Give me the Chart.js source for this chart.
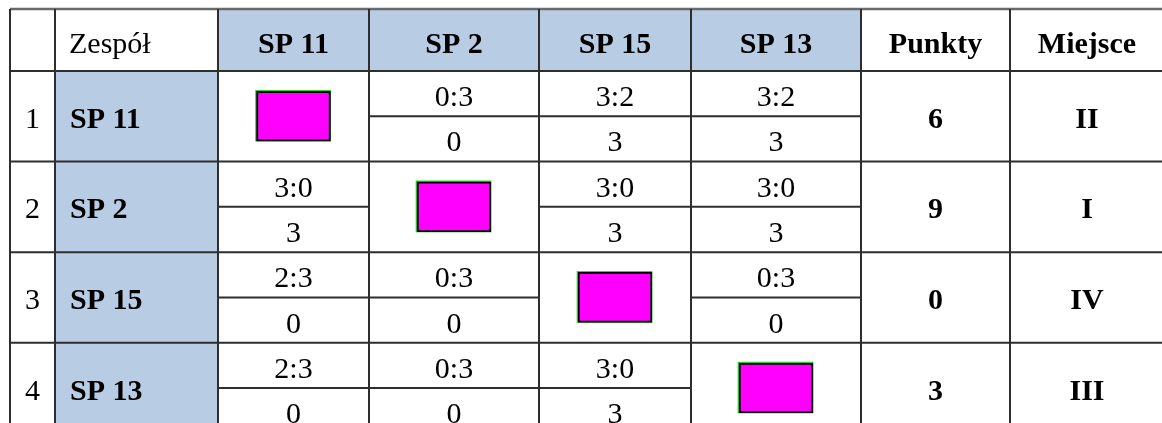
<!DOCTYPE html>
<html>
<head>
<meta charset="utf-8">
<script src="https://cdn.jsdelivr.net/npm/chart.js@4.4.1/dist/chart.umd.min.js"></script>
<style>
html, body { margin: 0; padding: 0; background: #fff; }
canvas { display: block; }
</style>
</head>
<body>
<canvas id="tableChart" width="1162" height="423"></canvas>
<script>
const teams = ['SP 11', 'SP 2', 'SP 15', 'SP 13'];

// wynik w setach (wiersz = gospodarz, kolumna = rywal)
const setScores = [
    [null, '0:3', '3:2', '3:2'],
    ['3:0', null, '3:0', '3:0'],
    ['2:3', '0:3', null, '0:3'],
    ['2:3', '0:3', '3:0', null],
];

const matchPoints = [
    [null, 0, 3, 3],
    [3, null, 3, 3],
    [0, 0, null, 0],
    [0, 0, 3, null],
];

const totalPoints = [6, 9, 0, 3];
const places = ['II', 'I', 'IV', 'III'];
const headLabels = ['', 'Zespół', ...teams, 'Punkty', 'Miejsce'];

// layout
const colWidths = [45, 163, 151, 170, 152, 170, 149, 154];
const colEdges = [0];
colWidths.forEach(w => colEdges.push(colEdges[colEdges.length - 1] + w));
const HALF_ROW = 45.29;          // px per y unit (half of a team row)
const HEAD = 62 / HALF_ROW;      // header height in y units
const PAD_TOP = 9, PAD_LEFT = 10;
const Y_MAX = (423 - PAD_TOP) / HALF_ROW;
const X_MAX = 1162 - PAD_LEFT;

const colCenter = c => (colEdges[c] + colEdges[c + 1]) / 2;
const rowTop = i => HEAD + 2 * i;

const BLUE = '#b8cce4';
const LINE = '#2e2e2e';

// grid lines as one line dataset with gaps
const gridPts = [];
const seg = (x1, y1, x2, y2) => gridPts.push({x: x1, y: y1}, {x: x2, y: y2}, {x: null, y: null});
colEdges.forEach(xv => seg(xv, 0, xv, HEAD + 8));
[HEAD, HEAD + 2, HEAD + 4, HEAD + 6, HEAD + 8].forEach(yv => seg(0, yv, colEdges[8], yv));
teams.forEach((t, i) => {
    for (let j = 0; j < teams.length; j++) {
        if (j !== i) seg(colEdges[j + 2], rowTop(i) + 1, colEdges[j + 3], rowTop(i) + 1);
    }
});

const textPlugin = {
    id: 'tableText',
    afterDatasetsDraw(chart) {
        const {ctx, scales: {x, y}} = chart;
        const put = (txt, xv, yv, bold, align, off) => {
            if (txt === null || txt === undefined || txt === '') return;
            ctx.save();
            ctx.font = (bold ? 'bold ' : '') + '30px "Liberation Serif", "Times New Roman", serif';
            ctx.fillStyle = '#000';
            ctx.textAlign = align || 'center';
            ctx.textBaseline = 'alphabetic';
            ctx.fillText(String(txt), x.getPixelForValue(xv), y.getPixelForValue(yv) + off);
            ctx.restore();
        };
        // header
        headLabels.forEach((lab, c) => {
            if (c === 1) put(lab, colEdges[1] + 14, HEAD / 2, false, 'left', 13);
            else put(lab, colCenter(c), HEAD / 2, c > 1, 'center', 13);
        });
        teams.forEach((team, i) => {
            const mid = rowTop(i) + 1;
            put(i + 1, colCenter(0), mid, false, 'center', 11.5);
            put(team, colEdges[1] + 15, mid, true, 'left', 11.5);
            for (let j = 0; j < teams.length; j++) {
                put(setScores[i][j], colCenter(j + 2), rowTop(i) + 0.5, false, 'center', 12.5);
                put(matchPoints[i][j], colCenter(j + 2), rowTop(i) + 1.5, false, 'center', 12.5);
            }
            put(totalPoints[i], colCenter(6), mid, true, 'center', 11.5);
            put(places[i], colCenter(7), mid, true, 'center', 11.5);
        });
    }
};

const config = {
    type: 'bar',
    data: {
        datasets: [
            {
                type: 'line',
                data: gridPts,
                borderColor: LINE,
                borderWidth: 2,
                pointRadius: 0,
                spanGaps: false,
                clip: false,
                order: 0,
            },
            {
                // górna krawędź tabeli, jaśniejsza
                type: 'line',
                data: [{x: 0, y: 0}, {x: colEdges[8], y: 0}],
                borderColor: '#6a6a6a',
                borderWidth: 2.5,
                pointRadius: 0,
                clip: false,
                order: 0,
            },
            {
                indexAxis: 'y',
                data: teams.map((t, i) => ({y: rowTop(i) + 1, x: [colCenter(i + 2) - 37, colCenter(i + 2) + 37]})),
                backgroundColor: '#ff00ff',
                borderColor: '#000',
                borderWidth: 2,
                borderSkipped: false,
                barThickness: 50,
                grouped: false,
                order: 1,
            },
            {
                indexAxis: 'y',
                data: teams.map((t, i) => ({y: rowTop(i) + 1 - 0.5 / HALF_ROW, x: [colCenter(i + 2) - 38, colCenter(i + 2) + 37]})),
                backgroundColor: '#22dd22',
                borderWidth: 0,
                barThickness: 51,
                grouped: false,
                order: 2,
            },
            {
                indexAxis: 'y',
                data: teams.map((t, j) => ({y: HEAD / 2, x: [colEdges[j + 2], colEdges[j + 3]]})),
                backgroundColor: BLUE,
                borderWidth: 0,
                barThickness: 62,
                grouped: false,
                order: 3,
            },
            {
                indexAxis: 'y',
                data: teams.map((t, i) => ({y: rowTop(i) + 1, x: [colEdges[1], colEdges[2]]})),
                backgroundColor: BLUE,
                borderWidth: 0,
                barThickness: 2 * HALF_ROW + 1,
                grouped: false,
                order: 3,
            },
        ],
    },
    options: {
        responsive: false,
        animation: false,
        layout: {
            padding: {top: PAD_TOP, left: PAD_LEFT, right: 0, bottom: 0},
        },
        scales: {
            x: {type: 'linear', min: 0, max: X_MAX, offset: false, display: false},
            y: {type: 'linear', min: 0, max: Y_MAX, reverse: true, offset: false, display: false},
        },
        plugins: {
            legend: {display: false},
            tooltip: {enabled: false},
        },
    },
    plugins: [textPlugin],
};

const tableChart = new Chart(document.getElementById('tableChart').getContext('2d'), config);
</script>
</body>
</html>
